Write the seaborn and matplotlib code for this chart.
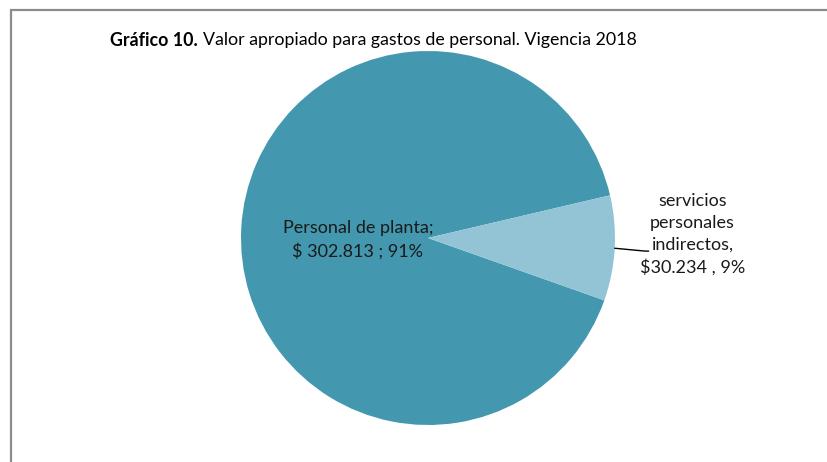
import matplotlib
matplotlib.use("Agg")
import matplotlib.pyplot as plt
import seaborn as sns
from matplotlib.patches import Rectangle
import numpy as np

# Data
categories = ["Personal de planta", "servicios personales indirectos"]
values = [302813, 30234]
colors = ["#4398B0", "#93C4D5"]

title_bold = "Gráfico 10."
title_rest = "Valor apropiado para gastos de personal. Vigencia 2018"

sns.set_theme(style="white")
plt.rcParams['font.family'] = ['Lato', 'DejaVu Sans']

fig = plt.figure(figsize=(8.27, 4.62), dpi=100)
W, H = 827, 462

# Grey frame (only top and left visible, like a cropped chart area)
fig.patches.append(Rectangle((10.5 / W, -0.1), 1.2, (H - 10.5) / H + 0.1,
                             transform=fig.transFigure, fill=False,
                             edgecolor="#8C8C8C", linewidth=1.6))

ax = fig.add_axes([241 / W, (H - 425) / H, 374 / W, 374 / H])
wedges, _ = ax.pie(values, colors=colors, startangle=13.2, counterclock=True,
                   wedgeprops=dict(linewidth=0))
ax.set_xlim(-1, 1)
ax.set_ylim(-1, 1)
ax.set_aspect("equal")
ax.axis("off")

total = sum(values)
pcts = [round(v / total * 100) for v in values]
fmt = lambda v: f"{v:,}".replace(",", ".")

lbl_big = f"{categories[0]};\n\\$ {fmt(values[0])} ; {pcts[0]}%"
lbl_small = "servicios\npersonales\nindirectos,\n" + f"\\${fmt(values[1])} , {pcts[1]}%"

ax.text(-0.375, -0.01, lbl_big, ha="center", va="center", fontsize=13,
        color="#1a1a1a", linespacing=1.45)

# leader line for small slice
w = wedges[1]
mid = np.deg2rad((w.theta1 + w.theta2) / 2)
x0, y0 = np.cos(mid), np.sin(mid)
ax.plot([x0, 1.16, 1.18], [y0, -0.07, -0.07], color="black", lw=1.0,
        clip_on=False)
ax.text(1.415, 0.02, lbl_small, ha="center", va="center", fontsize=13,
        color="#1a1a1a", linespacing=1.45)

# Title: bold part + normal part
fig.canvas.draw()
t1 = fig.text(110 / W, 1 - 40 / H, title_bold, fontsize=12.8, fontweight="bold",
              ha="left", va="center", color="black")
fig.canvas.draw()
bb = t1.get_window_extent()
fig.text((bb.x1 + 5) / W, 1 - 40 / H, title_rest, fontsize=12.8,
         ha="left", va="center", color="black")

plt.savefig("out.png", dpi=100)
plt.close()
